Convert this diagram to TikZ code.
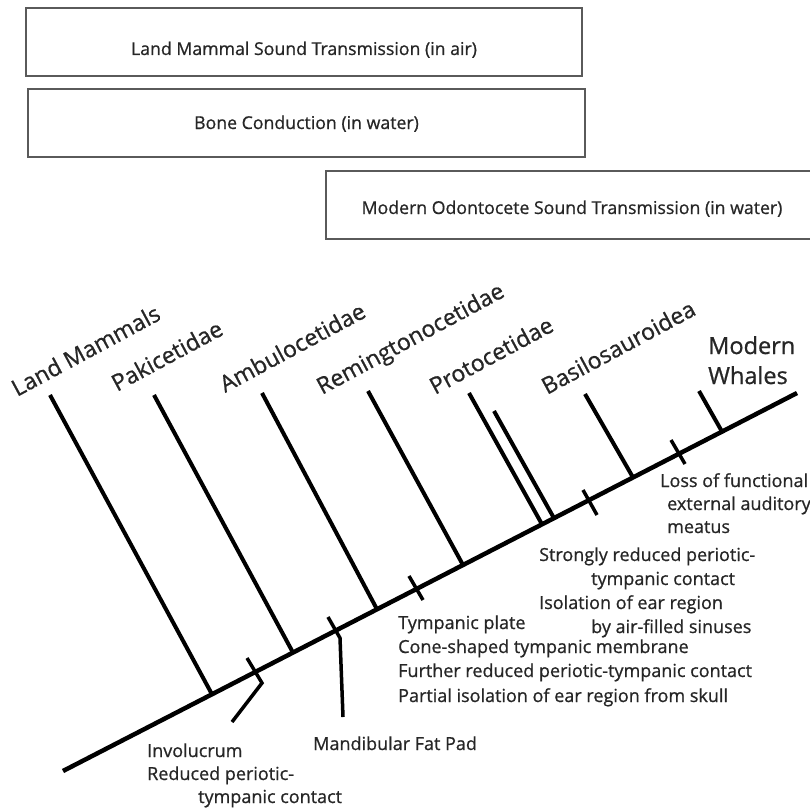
\documentclass[tikz,border=0pt]{standalone}
\usepackage{fontspec}
\setmainfont{Open Sans}[RawFeature={embolden=0.8}]
\definecolor{boxgray}{HTML}{5A5A5A}
\definecolor{txtgray}{HTML}{262626}
\begin{document}
\begin{tikzpicture}[x=1pt,y=-1pt,
  box/.style={draw=boxgray, line width=2pt, inner sep=0pt, text=txtgray,
    font=\fontsize{17.7}{20}\selectfont, minimum height=68pt,
    text height=12pt, text depth=0pt},
  taxon/.style={anchor=base west, inner sep=0pt, rotate=28.3, text=txtgray,
    font=\fontsize{23}{26}\selectfont},
  whale/.style={anchor=base west, inner sep=0pt, text=txtgray,
    font=\fontsize{23.5}{28}\selectfont},
  note/.style={anchor=base west, inner sep=0pt, text=txtgray,
    font=\fontsize{18}{23}\selectfont},
  branch/.style={line width=4pt, black},
  axisline/.style={line width=4.5pt, black},
  tick/.style={line width=3.5pt, black, line join=miter}]
\path[use as bounding box] (0,0) rectangle (810,808);
\clip (0,0) rectangle (810,808);

% boxes
\node[box, minimum width=556pt] (b1) at (304,42) {\raisebox{-7pt}{Land Mammal Sound Transmission (in air)}};
\node[box, minimum width=557pt] (b2) at (306.5,123) {Bone Conduction (in water)};
\node[box, minimum width=492pt] (b3) at (572,205) {\raisebox{-3pt}{Modern Odontocete Sound Transmission (in water)}};

% axis
\coordinate (a0) at (63,771);
\coordinate (a1) at (797,393);
\draw[axisline] (a0) -- (a1);

% branches
\coordinate (lmT) at (50,395);   \coordinate (lmB) at (212,694.3);
\coordinate (pkT) at (154,395);  \coordinate (pkB) at (293,652.6);
\coordinate (amT) at (262,393);  \coordinate (amB) at (377,609.3);
\coordinate (reT) at (368,391);  \coordinate (reB) at (463,565);
\coordinate (p1T) at (469,393);  \coordinate (p1B) at (542,524.3);
\coordinate (p2T) at (494,411);  \coordinate (p2B) at (554,518.2);
\coordinate (baT) at (585,394);  \coordinate (baB) at (633,477.4);
\coordinate (mwT) at (699,391);  \coordinate (mwB) at (722,431.6);
\foreach \n in {lm,pk,am,re,p1,p2,ba,mw}
  \draw[branch] (\n T) -- (\n B);

% character ticks
\coordinate (t1a) at (247,658); \coordinate (t1b) at (262,683); \coordinate (t1c) at (232,722);
\draw[tick] (t1a) -- (t1b) -- (t1c);
\coordinate (t2a) at (328,617); \coordinate (t2b) at (340,638); \coordinate (t2c) at (343,717);
\draw[tick] (t2a) -- (t2b) -- (t2c);
\coordinate (t3a) at (409,576); \coordinate (t3b) at (423,600);
\draw[tick] (t3a) -- (t3b);
\coordinate (t4a) at (583,490); \coordinate (t4b) at (597,515);
\draw[tick] (t4a) -- (t4b);
\coordinate (t5a) at (671,440); \coordinate (t5b) at (685,464);
\draw[tick] (t5a) -- (t5b);

% taxon labels
\node[taxon] (lLM) at (17,397) {Land Mammals};
\node[taxon] (lPK) at (117,392) {Pakicetidae};
\node[taxon] (lAM) at (225,393) {Ambulocetidae};
\node[taxon] (lRE) at (322,395) {Remingtonocetidae};
\node[taxon] (lPR) at (435,395) {Protocetidae};
\node[taxon] (lBA) at (547,395) {Basilosauroidea};
\node[whale] (lMW1) at (708,354) {Modern};
\node[whale] (lMW2) at (708,384) {Whales};

% character notes
\node[note] (n1a) at (147,757) {Involucrum};
\node[note] (n1b) at (147,780) {Reduced periotic-};
\node[note] (n1c) at (198,803) {tympanic contact};
\node[note] (n2) at (313,750) {Mandibular Fat Pad};
\node[note] (n3a) at (398,629) {Tympanic plate};
\node[note] (n3b) at (398,653) {Cone-shaped tympanic membrane};
\node[note] (n3c) at (398,677) {Further reduced periotic-tympanic contact};
\node[note] (n3d) at (398,702) {Partial isolation of ear region from skull};
\node[note] (n4a) at (539,561) {Strongly reduced periotic-};
\node[note] (n4b) at (591,585) {tympanic contact};
\node[note] (n4c) at (539,609) {Isolation of ear region};
\node[note] (n4d) at (591,633) {by air-filled sinuses};
\node[note] (n5a) at (660,487) {Loss of functional};
\node[note] (n5b) at (667,510) {external auditory};
\node[note] (n5c) at (667,533) {meatus};
\end{tikzpicture}
\end{document}
